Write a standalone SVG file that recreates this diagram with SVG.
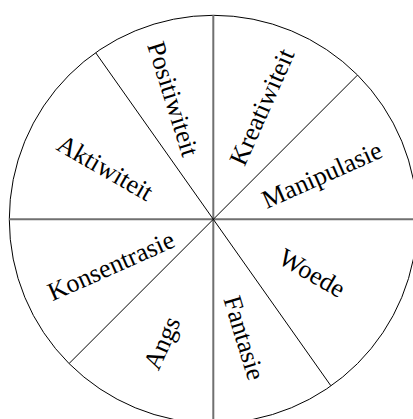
<svg xmlns="http://www.w3.org/2000/svg" width="413" height="419" viewBox="0 0 413 419">
<style>
.lbl{font-family:"Liberation Serif","Times New Roman",serif;font-size:26px;fill:#000;text-anchor:middle;dominant-baseline:central}
.axis{stroke:#707070;stroke-width:2;fill:none}
.div{stroke:#000;stroke-width:1;fill:none}
</style>
<rect width="413" height="419" fill="#fff"/>
<g id="wheel">
<circle cx="213.3" cy="219.3" r="204" fill="none" stroke="#000" stroke-width="1"/>
</g>
<g id="connectors">
<line class="axis" x1="213.3" y1="15.3" x2="213.3" y2="423.3"/>
<line class="axis" x1="9.3" y1="219.3" x2="417.3" y2="219.3"/>
<line class="div" x1="357.5" y1="75.1" x2="69.1" y2="363.5"/>
<line class="div" x1="95.8" y1="52.9" x2="330.8" y2="385.7"/>
</g>
<g id="positiwiteit"><text class="lbl" transform="translate(173,99) rotate(72.5)">Positiwiteit</text></g>
<g id="kreatiwiteit"><text class="lbl" transform="translate(262,107) rotate(-66)">Kreatiwiteit</text></g>
<g id="manipulasie"><text class="lbl" transform="translate(322,175) rotate(-24)">Manipulasie</text></g>
<g id="woede"><text class="lbl" transform="translate(312,273) rotate(30)">Woede</text></g>
<g id="fantasie"><text class="lbl" transform="translate(244,338) rotate(73)">Fantasie</text></g>
<g id="angs"><text class="lbl" transform="translate(162,343) rotate(-66)">Angs</text></g>
<g id="konsentrasie"><text class="lbl" transform="translate(111,266) rotate(-24)">Konsentrasie</text></g>
<g id="aktiwiteit"><text class="lbl" transform="translate(105,168) rotate(30)">Aktiwiteit</text></g>
</svg>
